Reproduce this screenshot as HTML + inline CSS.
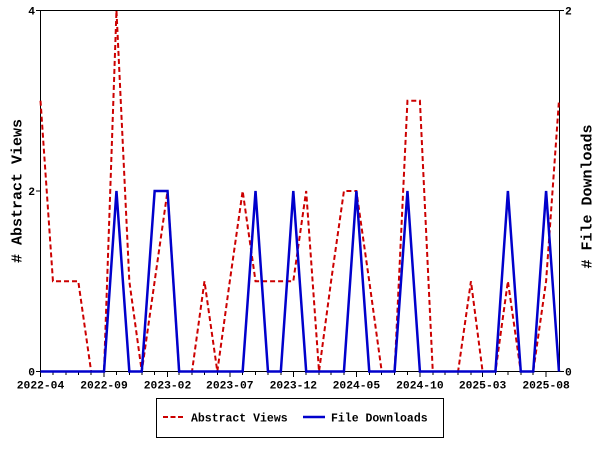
<!DOCTYPE html>
<html>
<head>
<meta charset="utf-8">
<style>
  html, body { margin: 0; padding: 0; background: #ffffff; }
  svg { display: block; }
  text { font-family: "Liberation Mono", "DejaVu Sans Mono", monospace; fill: #000; }
  .tick { font-size: 11.3px; font-weight: bold; }
  .title { font-size: 15px; font-weight: bold; }
  .leg { font-size: 11.5px; font-weight: bold; }
</style>
</head>
<body>
<svg width="600" height="450" viewBox="0 0 600 450" xmlns="http://www.w3.org/2000/svg">
  <rect x="0" y="0" width="600" height="450" fill="#ffffff"/>

  <!-- plot frame -->
  <rect x="40.5" y="10.5" width="519" height="361" fill="none" stroke="#000" stroke-width="1" shape-rendering="crispEdges"/>

  <!-- x minor ticks -->
  <g stroke="#000" stroke-width="1" shape-rendering="crispEdges">
    <line x1="52.95" y1="371.5" x2="52.95" y2="375"/>
    <line x1="65.82" y1="371.5" x2="65.82" y2="375"/>
    <line x1="78.27" y1="371.5" x2="78.27" y2="375"/>
    <line x1="91.14" y1="371.5" x2="91.14" y2="375"/>
    <line x1="116.46" y1="371.5" x2="116.46" y2="375"/>
    <line x1="129.33" y1="371.5" x2="129.33" y2="375"/>
    <line x1="141.78" y1="371.5" x2="141.78" y2="375"/>
    <line x1="154.65" y1="371.5" x2="154.65" y2="375"/>
    <line x1="179.14" y1="371.5" x2="179.14" y2="375"/>
    <line x1="192.01" y1="371.5" x2="192.01" y2="375"/>
    <line x1="204.46" y1="371.5" x2="204.46" y2="375"/>
    <line x1="217.33" y1="371.5" x2="217.33" y2="375"/>
    <line x1="242.65" y1="371.5" x2="242.65" y2="375"/>
    <line x1="255.52" y1="371.5" x2="255.52" y2="375"/>
    <line x1="267.97" y1="371.5" x2="267.97" y2="375"/>
    <line x1="280.84" y1="371.5" x2="280.84" y2="375"/>
    <line x1="306.17" y1="371.5" x2="306.17" y2="375"/>
    <line x1="319.03" y1="371.5" x2="319.03" y2="375"/>
    <line x1="331.07" y1="371.5" x2="331.07" y2="375"/>
    <line x1="343.94" y1="371.5" x2="343.94" y2="375"/>
    <line x1="369.26" y1="371.5" x2="369.26" y2="375"/>
    <line x1="381.71" y1="371.5" x2="381.71" y2="375"/>
    <line x1="394.58" y1="371.5" x2="394.58" y2="375"/>
    <line x1="407.45" y1="371.5" x2="407.45" y2="375"/>
    <line x1="432.77" y1="371.5" x2="432.77" y2="375"/>
    <line x1="445.22" y1="371.5" x2="445.22" y2="375"/>
    <line x1="458.09" y1="371.5" x2="458.09" y2="375"/>
    <line x1="470.96" y1="371.5" x2="470.96" y2="375"/>
    <line x1="495.45" y1="371.5" x2="495.45" y2="375"/>
    <line x1="507.90" y1="371.5" x2="507.90" y2="375"/>
    <line x1="520.77" y1="371.5" x2="520.77" y2="375"/>
    <line x1="533.22" y1="371.5" x2="533.22" y2="375"/>
  </g>
  <!-- x major ticks -->
  <g stroke="#000" stroke-width="1" shape-rendering="crispEdges">
    <line x1="40.5" y1="371.5" x2="40.5" y2="377"/>
    <line x1="104.01" y1="371.5" x2="104.01" y2="377"/>
    <line x1="167.52" y1="371.5" x2="167.52" y2="377"/>
    <line x1="229.79" y1="371.5" x2="229.79" y2="377"/>
    <line x1="293.30" y1="371.5" x2="293.30" y2="377"/>
    <line x1="356.39" y1="371.5" x2="356.39" y2="377"/>
    <line x1="419.90" y1="371.5" x2="419.90" y2="377"/>
    <line x1="482.58" y1="371.5" x2="482.58" y2="377"/>
    <line x1="546.09" y1="371.5" x2="546.09" y2="377"/>
  </g>
  <!-- y ticks -->
  <g stroke="#000" stroke-width="1" shape-rendering="crispEdges">
    <line x1="36" y1="10.5" x2="40.5" y2="10.5"/>
    <line x1="36" y1="191" x2="40.5" y2="191"/>
    <line x1="36" y1="371.5" x2="40.5" y2="371.5"/>
    <line x1="559.5" y1="10.5" x2="564" y2="10.5"/>
    <line x1="559.5" y1="371.5" x2="564" y2="371.5"/>
  </g>

  <!-- x labels -->
  <g class="tick" text-anchor="middle">
    <text x="40.5" y="388.5">2022-04</text>
    <text x="104.01" y="388.5">2022-09</text>
    <text x="167.52" y="388.5">2023-02</text>
    <text x="229.79" y="388.5">2023-07</text>
    <text x="293.30" y="388.5">2023-12</text>
    <text x="356.39" y="388.5">2024-05</text>
    <text x="419.90" y="388.5">2024-10</text>
    <text x="482.58" y="388.5">2025-03</text>
    <text x="546.09" y="388.5">2025-08</text>
  </g>
  <!-- y labels -->
  <g class="tick" text-anchor="end">
    <text x="35" y="14.5">4</text>
    <text x="35" y="195">2</text>
    <text x="35" y="375.5">0</text>
  </g>
  <g class="tick" text-anchor="start">
    <text x="565" y="14.5">2</text>
    <text x="565" y="375.5">0</text>
  </g>

  <!-- axis titles -->
  <text class="title" text-anchor="middle" transform="translate(21.5,191) rotate(-90)"># Abstract Views</text>
  <text class="title" text-anchor="middle" transform="translate(591.5,196.5) rotate(-90)"># File Downloads</text>

  <!-- Abstract Views (red dashed) -->
  <polyline fill="none" stroke="#cc0000" stroke-width="2" stroke-dasharray="5 3" stroke-linejoin="miter"
    points="40.5,100.75 52.95,281.25 65.82,281.25 78.27,281.25 91.14,371.5 104.01,371.5 116.46,10.5 129.33,281.25 141.78,371.5 154.65,281.25 167.52,191 179.14,371.5 192.01,371.5 204.46,281.25 217.33,371.5 229.79,281.25 242.65,191 255.52,281.25 267.97,281.25 280.84,281.25 293.30,281.25 306.17,191 319.03,371.5 331.07,281.25 343.94,191 356.39,191 369.26,281.25 381.71,371.5 394.58,371.5 407.45,100.75 419.90,100.75 432.77,371.5 445.22,371.5 458.09,371.5 470.96,281.25 482.58,371.5 495.45,371.5 507.90,281.25 520.77,371.5 533.22,371.5 546.09,281.25 558.96,100.75"/>

  <!-- File Downloads (blue solid) -->
  <polyline fill="none" stroke="#0000cc" stroke-width="2.5" stroke-linejoin="miter"
    points="40.5,371.5 104.01,371.5 116.46,191 129.33,371.5 141.78,371.5 154.65,191 167.52,191 179.14,371.5 242.65,371.5 255.52,191 267.97,371.5 280.84,371.5 293.30,191 306.17,371.5 343.94,371.5 356.39,191 369.26,371.5 394.58,371.5 407.45,191 419.90,371.5 495.45,371.5 507.90,191 520.77,371.5 533.22,371.5 546.09,191 558.96,371.5"/>

  <!-- legend -->
  <rect x="156.5" y="398.5" width="287" height="39" fill="#ffffff" stroke="#000" stroke-width="1" shape-rendering="crispEdges"/>
  <line x1="163" y1="417" x2="183" y2="417" stroke="#cc0000" stroke-width="2" stroke-dasharray="5 2.5"/>
  <text class="leg" x="191" y="421.5">Abstract Views</text>
  <line x1="303" y1="417" x2="325" y2="417" stroke="#0000cc" stroke-width="2.5"/>
  <text class="leg" x="331" y="421.5">File Downloads</text>
</svg>
</body>
</html>
